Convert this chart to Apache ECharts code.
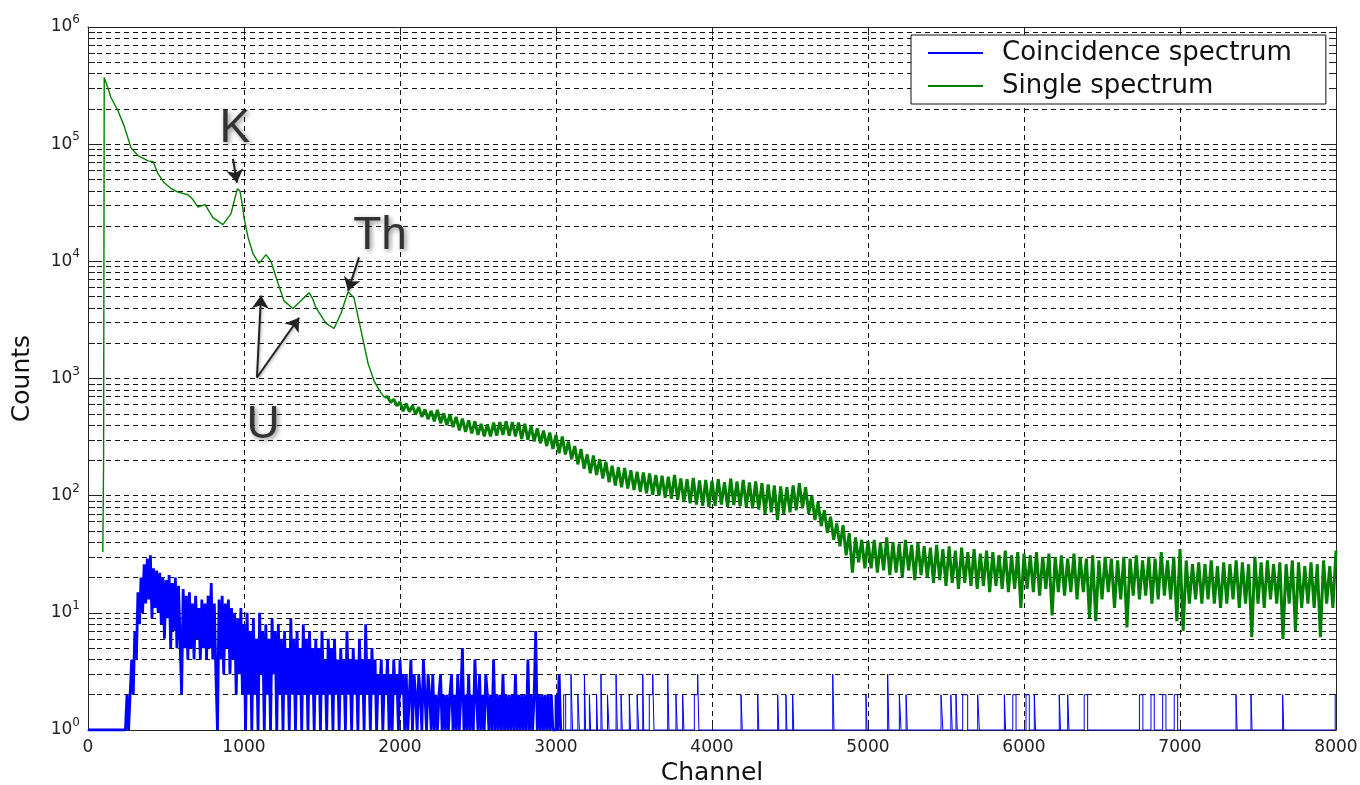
<!DOCTYPE html>
<html><head><meta charset="utf-8">
<script src="https://cdn.jsdelivr.net/npm/echarts@6/dist/echarts.min.js"></script>
<style>html,body{margin:0;padding:0;background:#fff}#c{width:1360px;height:785px}</style>
</head><body><div id="c"></div>
<script>
// ---------- axes ----------
const xTicks = [0, 1000, 2000, 3000, 4000, 5000, 6000, 7000, 8000];
const yDecades = [1, 10, 100, 1000, 10000, 100000, 1000000];
const seriesNames = ['Coincidence spectrum', 'Single spectrum'];

// ---------- Single spectrum (green) ----------
// smooth low-channel part: channels and counts
const singleCh = [95,100,104,128,147,192,231,276,320,385,417,449,487,530,577,641,670,705,750,801,865,917,945,958,974,990,1000,1026,1058,1096,1120,1141,1173,1218,1256,1314,1365,1417,1440,1462,1526,1577,1622,1667,1705,1750,1795,1833,1870,1900];
const singleVal = [33,200,370000,300000,250000,193000,144000,93000,80000,72000,71000,56000,47000,42000,39000,37000,34000,29000,30500,23600,20600,25500,36000,41500,40000,30000,23600,16000,11600,9600,10500,11400,10000,6500,4600,3960,4600,5400,4800,4000,2950,2670,3600,5500,4900,2570,1350,960,780,690];
// noisy part: one value every 20 channels starting at channel 1920
const singleNoisyStart = 1920, singleNoisyStep = 20;
const singleNoisy = [
  700,625,665,585,630,
  525,610,520,585,495,570,470,545,450,530,
  430,540,415,505,400,490,385,470,360,455,
  350,440,340,430,330,410,320,405,
  320,420,325,425,330,430,325,425,320,
  420,305,410,300,395,290,375,280,360,265,345,250,330,
  230,320,225,290,205,265,185,250,170,225,
  155,220,150,205,140,195,130,180,122,175,
  118,172,115,165,112,160,108,158,105,155,
  102,150,100,148,96,145,94,150,92,140,
  88,138,86,142,84,135,82,136,80,134,
  82,138,84,130,80,140,83,132,81,136,80,130,
  78,132,76,128,70,125,72,122,62,120,
  70,118,72,122,75,128,78,118,
  70,100,62,88,55,75,48,66,42,58,
  37,56,31,48,22,44,27,42,24,41,
  24,42,22,40,23,44,21,40,22,39,20,42,23,38,19,40,21,37,20,36,
  18,38,19,35,17,37,18,34,16,36,18,33,17,35,16,32,17,34,15,33,17,31,16,34,15,31,16,33,11,32,
  16,31,15,33,14,30,16,32,9.5,30,15,31,14,29,15,32,13,30,15,29,9,31,8.5,28,13,30,15,29,11,28,
  13,30,7.5,29,14,31,13,28,14,30,12,29,13,33,14,28,13,30,8.5,35,
  7,28,12,26,13,27,12,26,13,28,12,25,11,27,12,26,13,28,11,27,12,26,6.2,30,12,27,11,28,13,26,
  12,27,6,26,12,28,7,27,11,25,12,27,11,26,6.2,28,12,25,11,34
];

// ---------- Coincidence spectrum (blue) ----------
// dense part: one value every 10 channels starting at channel 240
const coinDenseStart = 240, coinDenseStep = 10;
const coinDense = [
  1,2,1,2,4,2,7,4,15,8,20,10,26,12,29,13,31,9,24,11,
  23,10,22,8,20,6,19,9,21,5,18,7,20,5,17,6,2,16,5,14,
  4,15,5,12,4,14,6,11,4,13,5,12,4,14,5,18,4,12,3,1,
  13,4,14,3,12,5,13,3,11,4,10,2,9,3,11,2,8,1,10,2,
  7,1,9,2,6,1,10,3,7,1,8,2,6,1,9,3,7,1,8,2,
  6,1,7,2,5,1,9,2,6,1,7,2,5,1,8,2,6,1,7,2,
  5,1,6,2,5,1,7,2,4,1,6,2,5,1,6,2,4,1,5,2,
  4,1,7,2,4,1,5,2,4,1,6,2,4,1,8,2,4,1,5,2,
  4,1,3,2,4,1,3,2,4,1,3,1,4,2,3,1,4,2,3,1,
  3,1,2,4,1,3,2,1,3,2,1,4,2,1,3,2,1,3,1,2,
  1,2,3,1,2,1,2,1,2,3,1,2,1,3,1,2,5,1,2,1,
  3,1,2,1,4,2,1,3,1,2,1,3,2,1,2,1,4,1,2,1,
  2,1,3,1,2,1,2,1,2,1,3,1,2,1,2,1,2,1,4,1,
  2,1,2,7,1,2,1,2,1,2,1,2,1,2,1,1,2,1,3,1
];
// sparse tail: step points (channel, counts)
const coinTailCh  = [3040,3049,3062,3096,3106,3140,3150,3182,3190,3214,3222,3260,3266,3288,3296,3330,3340,3385,3393,3417,3425,3470,3478,3520,3530,3556,3562,3598,3620,3628,3716,3724,3769,3777,3812,3820,3887,3908,3916,4186,4194,4293,4300,4421,4428,4474,4480,4517,4524,4774,4782,4987,4994,5126,5134,5201,5212,5244,5252,5468,5480,5531,5540,5564,5572,5607,5639,5703,5714,5874,5882,5928,5949,6013,6034,6066,6074,6226,6234,6280,6288,6386,6408,6740,6762,6814,6835,6889,6910,6963,6985,7359,7366,7455,7462,7658,7665,7995,8000];
const coinTailVal = [1,2,1,3,1,2,1,3,1,2,1,2,1,3,1,2,1,3,1,2,1,2,1,2,1,3,1,2,3,1,3,1,2,1,2,1,2,3,1,2,1,2,1,2,1,2,1,2,1,3,1,2,1,3,1,2,1,2,1,2,1,2,1,2,1,2,1,2,1,2,1,2,1,2,1,2,1,2,1,2,1,2,1,2,1,2,1,2,1,2,1,2,1,2,1,2,1,2,2];

// ---------- annotations (data coordinates) ----------
const annoText = ['K', 'Th', 'U'];
const annoAt = [[942, 134000], [1872, 16400], [1122, 398]];
const arrowFrom = [[929, 75000], [1737, 10800], [1083, 1020], [1083, 1020]];
const arrowTo   = [[955, 47000], [1667, 5600], [1109, 5100], [1353, 3300]];

// ---------- build ----------
const singleSmoothData = singleCh.map((c, i) => [c, singleVal[i]]);
const singleNoisyData = [singleSmoothData[singleSmoothData.length - 1]]
  .concat(singleNoisy.map((v, i) => [singleNoisyStart + i * singleNoisyStep, v]));
const coinDenseData = [[0, 1]]
  .concat(coinDense.map((v, i) => [coinDenseStart + i * coinDenseStep, v]));
const coinTailData = [coinDenseData[coinDenseData.length - 1]]
  .concat(coinTailCh.map((c, i) => [c, coinTailVal[i]]));

const FONT = "'DejaVu Sans', sans-serif";
const DASH = [5, 4];
const minorVals = [];
for (let d = 0; d < yDecades.length - 1; d++) for (let m = 2; m <= 9; m++) minorVals.push(m * yDecades[d]);
const minorGrid = minorVals.map(v => ({ yAxis: v }));
const minorTicks = [];
minorVals.forEach(v => {
  minorTicks.push([{ coord: [0, v] }, { coord: [45, v] }]);
  minorTicks.push([{ coord: [7955, v] }, { coord: [8000, v] }]);
});

const BLUE = '#0000ff', GREEN = '#008000';
const base = { type: 'line', symbol: 'none', showSymbol: false, silent: true, z: 3 };

const chart = echarts.init(document.getElementById('c'), null, { renderer: 'canvas' });
chart.setOption({
  animation: false,
  backgroundColor: '#fff',
  grid: { left: 88, right: 24, top: 27, bottom: 55, containLabel: false, outerBoundsMode: 'none' },
  xAxis: [{
    type: 'value', min: xTicks[0], max: xTicks[xTicks.length - 1], interval: 1000,
    name: 'Channel', nameLocation: 'middle', nameGap: 30,
    nameTextStyle: { fontFamily: FONT, fontSize: 25, color: '#111' },
    axisLine: { show: true, onZero: false, lineStyle: { color: '#222', width: 1 } },
    axisTick: { show: true, inside: true, length: 8, lineStyle: { color: '#222' } },
    axisLabel: { fontFamily: FONT, fontSize: 17, color: '#222', margin: 9, formatter: v => String(v) },
    splitLine: { show: true, lineStyle: { color: '#111', type: DASH, width: 1 } }
  }, {
    type: 'value', position: 'top', min: xTicks[0], max: xTicks[xTicks.length - 1], interval: 1000,
    axisLine: { show: true, onZero: false, lineStyle: { color: '#222', width: 1 } },
    axisTick: { show: true, inside: true, length: 8, lineStyle: { color: '#222' } },
    axisLabel: { show: false }, splitLine: { show: false }
  }],
  yAxis: [{
    type: 'log', logBase: 10, min: yDecades[0], max: yDecades[yDecades.length - 1], interval: 1,
    name: 'Counts', nameLocation: 'middle', nameGap: 53, nameRotate: 90,
    nameTextStyle: { fontFamily: FONT, fontSize: 25, color: '#111' },
    axisLine: { show: true, onZero: false, lineStyle: { color: '#222', width: 1 } },
    axisTick: { show: true, inside: true, length: 12, lineStyle: { color: '#222' } },
    axisLabel: {
      margin: 8,
      formatter: v => '{b|10}{s|' + Math.round(Math.log10(v)) + '}',
      rich: {
        b: { fontFamily: FONT, fontSize: 17, color: '#222' },
        s: { fontFamily: FONT, fontSize: 12, color: '#222', padding: [0, 0, 14, 0] }
      }
    },
    splitLine: { show: true, lineStyle: { color: '#111', type: DASH, width: 1 } }
  }, {
    type: 'log', logBase: 10, position: 'right', min: yDecades[0], max: yDecades[yDecades.length - 1], interval: 1,
    axisLine: { show: true, onZero: false, lineStyle: { color: '#222', width: 1 } },
    axisTick: { show: true, inside: true, length: 12, lineStyle: { color: '#222' } },
    axisLabel: { show: false }, splitLine: { show: false }
  }],
  legend: {
    left: 911, top: 35, orient: 'vertical',
    data: seriesNames,
    backgroundColor: '#fff', borderColor: '#111', borderWidth: 1, borderRadius: 0,
    padding: [5, 34, 5, 17], itemGap: 7, itemWidth: 55, itemHeight: 2, icon: 'rect',
    textStyle: { fontFamily: FONT, fontSize: 26, color: '#111', padding: [0, 0, 0, 14] },
    selectedMode: false, z: 10
  },
  series: [{
    name: '_grid', type: 'line', data: [[0, 1]], symbol: 'none', silent: true, z: 1,
    lineStyle: { width: 0 },
    markLine: {
      silent: true, z: 1, symbol: ['none', 'none'], label: { show: false },
      lineStyle: { color: '#111', type: DASH, width: 1 },
      emphasis: { disabled: true },
      data: minorGrid.concat(minorTicks.map(p => [
        Object.assign({ lineStyle: { type: 'solid', color: '#222' } }, p[0]), p[1]]))
    }
  },
  Object.assign({}, base, { name: seriesNames[0], data: coinDenseData, step: 'end', color: BLUE,
    lineStyle: { color: BLUE, width: 2.8 } }),
  Object.assign({}, base, { name: seriesNames[0], data: coinTailData, step: 'end', color: BLUE,
    lineStyle: { color: BLUE, width: 1 } }),
  Object.assign({}, base, { name: seriesNames[1], data: singleSmoothData, color: GREEN,
    lineStyle: { color: GREEN, width: 1.4 },
    markPoint: {
      silent: true, symbol: 'circle', symbolSize: 0, z: 8,
      label: {
        show: true, position: 'inside', fontFamily: "'Liberation Sans', Arial, sans-serif",
        fontSize: 46, color: '#333',
        textShadowColor: 'rgba(0,0,0,0.45)', textShadowBlur: 5, textShadowOffsetX: 2, textShadowOffsetY: 2
      },
      data: annoText.map((t, i) => ({ coord: annoAt[i], label: { formatter: t } }))
    },
    markLine: {
      silent: true, z: 8, symbol: ['none', 'arrow'], symbolSize: 13, label: { show: false },
      lineStyle: { color: '#222', width: 2, type: 'solid', shadowColor: 'rgba(0,0,0,0.35)', shadowBlur: 3, shadowOffsetX: 1, shadowOffsetY: 1 },
      emphasis: { disabled: true },
      data: arrowFrom.map((f, i) => [{ coord: f }, { coord: arrowTo[i] }])
    }
  }),
  Object.assign({}, base, { name: seriesNames[1], data: singleNoisyData, color: GREEN,
    lineStyle: { color: GREEN, width: 3 } })
  ]
});
</script>
</body></html>
